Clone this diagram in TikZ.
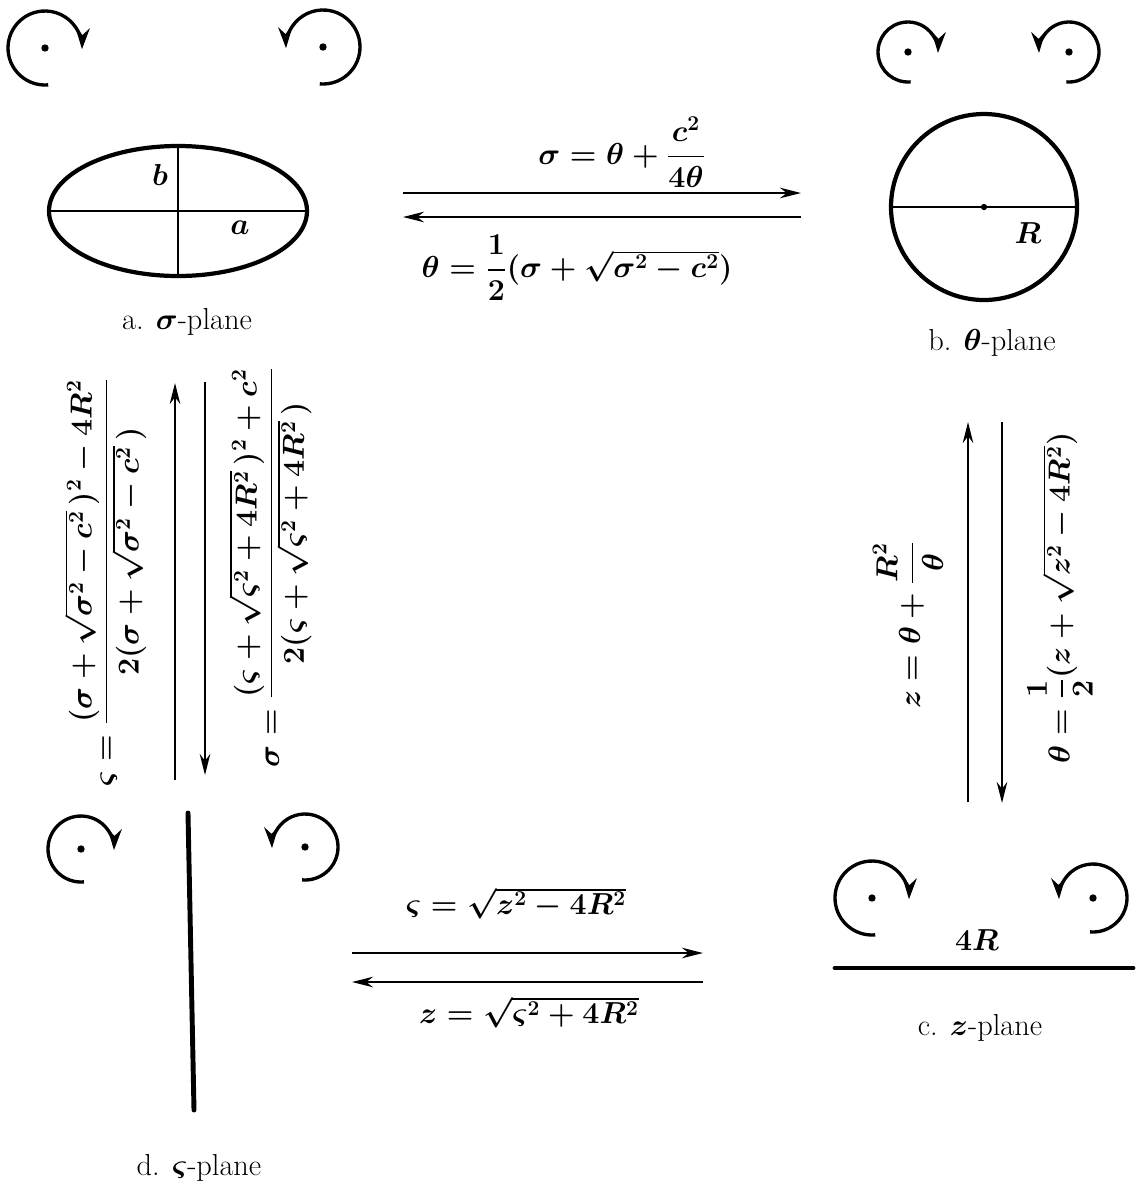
\documentclass[tikz,border=0pt]{standalone}
\usepackage{amsmath,amssymb}
\usepackage{tikz}
\usetikzlibrary{arrows.meta,positioning,calc}

\tikzset{
  spin/.style={line width=1.9pt,-{Stealth[length=12pt,width=8pt]}},
  maparrow/.style={line width=0.85pt,-{Stealth[length=12pt,width=6pt]}},
  rim/.style={line width=2.4pt},
  axis/.style={line width=0.8pt},
  bar/.style={line width=2.8pt,line cap=round},
  maplabel/.style={font=\LARGE\boldmath},
  planelabel/.style={font=\LARGE\boldmath},
}
% rotation marks: dot with a turning arrow round it
\newcommand{\cwturn}[3]{%
  \fill (#1,#2) circle (2.1pt);
  \draw[spin] (#1,#2) ++(275:#3) arc[start angle=275,end angle=-2,radius=#3];}
\newcommand{\ccwturn}[3]{%
  \fill (#1,#2) circle (2.1pt);
  \draw[spin] (#1,#2) ++(265:#3) arc[start angle=-95,end angle=182,radius=#3];}

\begin{document}
\begin{tikzpicture}[x=0.02cm,y=0.02cm]
  \useasboundingbox (0,0) rectangle (1136,-1187);
  % a. sigma-plane
  \cwturn{45}{-48}{37}
  \ccwturn{323}{-47}{37}
  \coordinate (sc) at (178,-211);
  \draw[rim] (sc) ellipse [x radius=129, y radius=65];
  \draw[axis] (49,-211) -- (307,-211); % major axis
  \draw[axis] (178,-146) -- (178,-276); % minor axis
  \node[font=\LARGE\boldmath] (lb) at (160,-175) {$b$};
  \node[font=\LARGE\boldmath] (la) at (240,-228) {$a$};
  \node[planelabel] (pa) at (187,-322) {a. $\sigma$-plane};
  % b. theta-plane
  \cwturn{908}{-52}{30}
  \ccwturn{1069}{-52}{30}
  \coordinate (tc) at (984,-207);
  \draw[rim] (tc) circle [radius=93];
  \draw[axis] (891,-207) -- (1077,-207); % diameter
  \fill (tc) circle (1.8pt);
  \node[font=\LARGE\boldmath] (lR) at (1028,-233) {$R$};
  \node[planelabel] (pb) at (992,-343) {b. $\theta$-plane};
  % c. z-plane
  \cwturn{872}{-898}{37}
  \ccwturn{1093}{-898}{34}
  \draw[bar] (835,-968) -- (1133,-968); % slit of length 4R
  \node[font=\LARGE\boldmath] (l4R) at (977,-940) {$4R$};
  \node[planelabel] (pc) at (980,-1028) {c. $z$-plane};
  % d. varsigma-plane
  \cwturn{81}{-849}{33}
  \ccwturn{305}{-847}{33}
  \draw[bar] (188,-813) -- (194,-1110); % slit
  \node[planelabel] (pd) at (199,-1168) {d. $\varsigma$-plane};
  % sigma <-> theta
  \coordinate (st1) at (403,-193); \coordinate (st2) at (801,-193);
  \coordinate (ts1) at (801,-217); \coordinate (ts2) at (403,-217);
  \draw[maparrow] (st1) -- (st2);
  \draw[maparrow] (ts1) -- (ts2);
  \node[maplabel] (fst) at (622,-152) {$\sigma = \theta + \dfrac{c^2}{4\theta}$};
  \node[maplabel] (fts) at (577,-268) {$\theta = \dfrac{1}{2}(\sigma + \sqrt{\sigma^2 - c^2})$};
  % theta <-> z
  \coordinate (zt1) at (968,-802); \coordinate (zt2) at (968,-422);
  \coordinate (tz1) at (1002,-422); \coordinate (tz2) at (1002,-803);
  \draw[maparrow] (zt1) -- (zt2);
  \draw[maparrow] (tz1) -- (tz2);
  \node[maplabel,rotate=90] (ftz) at (908,-625) {$z = \theta + \dfrac{R^2}{\theta}$};
  \node[maplabel,rotate=90] (fzt) at (1060,-598) {$\theta = \dfrac{1}{2}(z + \sqrt{z^2 - 4R^2})$};
  % z <-> varsigma
  \coordinate (sz1) at (352,-953); \coordinate (sz2) at (703,-953);
  \coordinate (zs1) at (703,-982); \coordinate (zs2) at (352,-982);
  \draw[maparrow] (sz1) -- (sz2);
  \draw[maparrow] (zs1) -- (zs2);
  \node[maplabel] (fzs) at (516,-903) {$\varsigma = \sqrt{z^2 - 4R^2}$};
  \node[maplabel] (fsz) at (529,-1012) {$z = \sqrt{\varsigma^2 + 4R^2}$};
  % varsigma <-> sigma
  \coordinate (ds1) at (175,-780); \coordinate (ds2) at (175,-383);
  \coordinate (sd1) at (205,-382); \coordinate (sd2) at (205,-775);
  \draw[maparrow] (ds1) -- (ds2);
  \draw[maparrow] (sd1) -- (sd2);
  \node[maplabel,rotate=90] (fds) at (105,-582) {$\varsigma = \dfrac{(\sigma + \sqrt{\sigma^2 - c^2}\,)^2 - 4R^2}{2(\sigma + \sqrt{\sigma^2 - c^2}\,)}$};
  \node[maplabel,rotate=90] (fsd) at (270,-567) {$\sigma = \dfrac{(\varsigma + \sqrt{\varsigma^2 + 4R^2}\,)^2 + c^2}{2(\varsigma + \sqrt{\varsigma^2 + 4R^2}\,)}$};
\end{tikzpicture}
\end{document}
